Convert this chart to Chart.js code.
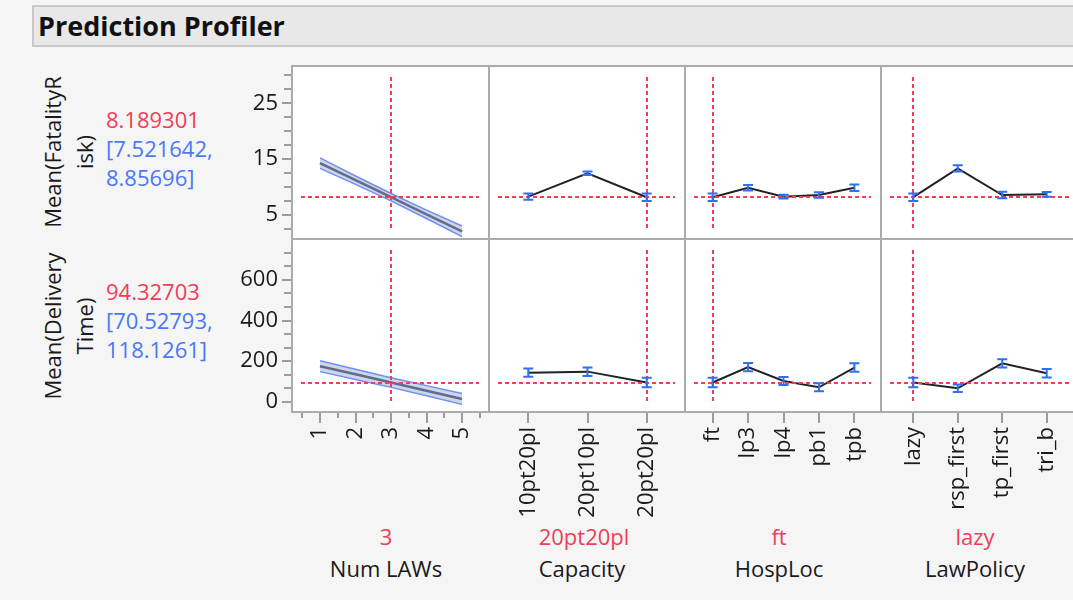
<!DOCTYPE html>
<html>
<head>
<meta charset="utf-8">
<script src="https://cdn.jsdelivr.net/npm/chart.js@4.4.1/dist/chart.umd.min.js"></script>
<style>
html,body{margin:0;padding:0;width:1073px;height:600px;overflow:hidden;background:#f5f5f5;font-family:'Open Sans',sans-serif;}
#stage{position:relative;width:1073px;height:600px;overflow:hidden;}
.titlebar{position:absolute;left:32px;top:5px;width:1060px;height:42px;background:#e8e8e8;border:2px solid #c9c9c9;box-sizing:border-box;}
.title{position:absolute;left:38px;top:6.5px;font-weight:700;font-size:27px;line-height:37px;color:#111;white-space:nowrap;}
.t{position:absolute;white-space:nowrap;font-size:22px;color:#1a1a1a;}
.c{transform:translate(-50%,-50%);line-height:30px;text-align:center;}
.rot{transform:translate(-50%,-50%) rotate(-90deg);line-height:32px;text-align:center;width:220px;}
.vals{line-height:29px;}
.red{color:#ef3d58;}
.blue{color:#4a78f5;}
canvas{position:absolute;}
</style>
</head>
<body>
<div id="stage">
  <div class="titlebar"></div>
  <div class="title">Prediction Profiler</div>

  <div class="t rot" style="left:68px;top:152px;">Mean(FatalityR<br>isk)</div>
  <div class="t vals" style="left:106px;top:105px;"><span class="red">8.189301</span><br><span class="blue">[7.521642,</span><br><span class="blue">8.85696]</span></div>

  <div class="t rot" style="left:68px;top:326px;">Mean(Delivery<br>Time)</div>
  <div class="t vals" style="left:106px;top:277px;"><span class="red">94.32703</span><br><span class="blue">[70.52793,</span><br><span class="blue">118.1261]</span></div>

  <div class="t c red" style="left:386px;top:536px;">3</div>
  <div class="t c" style="left:386px;top:568px;">Num LAWs</div>
  <div class="t c red" style="left:584px;top:536px;">20pt20pl</div>
  <div class="t c" style="left:582px;top:568px;">Capacity</div>
  <div class="t c red" style="left:779px;top:536px;">ft</div>
  <div class="t c" style="left:779px;top:568px;">HospLoc</div>
  <div class="t c red" style="left:975px;top:536px;">lazy</div>
  <div class="t c" style="left:975px;top:568px;">LawPolicy</div>
</div>
<script>
// ---------------- data ----------------
const numLaws = [1, 2, 3, 4, 5];
const fatalityByLaws   = [14.30, 11.24, 8.19, 5.13, 2.08];
const fatalityByLawsHi = [15.25, 11.99, 8.86, 5.88, 3.03];
const fatalityByLawsLo = [13.35, 10.49, 7.52, 4.38, 1.13];
const deliveryByLaws   = [175, 134.7, 94.3, 54, 13.5];
const deliveryByLawsHi = [202, 159.7, 118.1, 79, 40.5];
const deliveryByLawsLo = [148, 109.7, 70.5, 29, -13.5];

const capacityCats = ['10pt20pl', '20pt10pl', '20pt20pl'];
const fatalityByCapacity    = [8.30, 12.47, 8.19];
const fatalityByCapacityErr = [0.57, 0.32, 0.67];
const deliveryByCapacity    = [143, 148, 94.3];
const deliveryByCapacityErr = [20, 21, 23.8];

const hospCats = ['ft', 'lp3', 'lp4', 'pb1', 'tpb'];
const fatalityByHosp    = [8.19, 9.89, 8.28, 8.58, 9.89];
const fatalityByHospErr = [0.67, 0.48, 0.33, 0.50, 0.57];
const deliveryByHosp    = [94.3, 170, 102, 71, 168];
const deliveryByHospErr = [23.8, 20, 20, 20, 21];

const policyCats = ['lazy', 'rsp_first', 'tp_first', 'tri_b'];
const fatalityByPolicy    = [8.19, 13.36, 8.58, 8.70];
const fatalityByPolicyErr = [0.67, 0.57, 0.57, 0.42];
const deliveryByPolicy    = [94.3, 66, 189, 140];
const deliveryByPolicyErr = [23.8, 19, 20, 21];

const currentFatality = 8.189301;
const currentDelivery = 94.32703;
const currentLaws = 3;
const currentCapacity = 2;   // 20pt20pl
const currentHosp = 0;       // ft
const currentPolicy = 0;     // lazy

const fatalityTickLabels = [5, 15, 25];
const deliveryTickLabels = [0, 200, 400, 600];

// ---------------- layout ----------------
const PX = [292, 489, 685, 881, 1079];
const PY = [66, 239, 412];
const RED = '#f53b57', BLUE = '#2f6ff0', TICK = '#9c9c9c', FRAME = '#ababab';
const FONT = {family: "'Open Sans', sans-serif", size: 22};

function range(a, b, s) { const r = []; for (let v = a; v <= b + 1e-9; v += s) r.push(+v.toFixed(6)); return r; }

const rowInfo = [
  {min: 0.7, max: 31.7, ticks: range(2.5, 30, 2.5), labels: fatalityTickLabels, ref: currentFatality},
  {min: -51, max: 802, ticks: range(0, 740, 200 / 3), labels: deliveryTickLabels, ref: currentDelivery}
];
const colInfo = [
  {min: 0.21, max: 5.76, ticks: range(0.5, 5.5, 0.5), cats: null, ref: currentLaws},
  {min: -0.664, max: 2.647, ticks: [0, 1, 2], cats: capacityCats, ref: currentCapacity},
  {min: -0.78, max: 4.75, ticks: [0, 1, 2, 3, 4], cats: hospCats, ref: currentHosp},
  {min: -0.727, max: 3.727, ticks: [0, 1, 2, 3], cats: policyCats, ref: currentPolicy}
];
const catData = [
  [null, [fatalityByCapacity, fatalityByCapacityErr], [fatalityByHosp, fatalityByHospErr], [fatalityByPolicy, fatalityByPolicyErr]],
  [null, [deliveryByCapacity, deliveryByCapacityErr], [deliveryByHosp, deliveryByHospErr], [deliveryByPolicy, deliveryByPolicyErr]]
];
const contData = [
  [fatalityByLaws, fatalityByLawsHi, fatalityByLawsLo],
  [deliveryByLaws, deliveryByLawsHi, deliveryByLawsLo]
];

function isLabeled(v, labels) { return labels.some(l => Math.abs(l - v) < 1e-6); }

const profiler = {
  id: 'profiler',
  beforeDraw(chart) {
    const {ctx, chartArea: a} = chart;
    ctx.save();
    ctx.fillStyle = '#ffffff';
    ctx.fillRect(a.left, a.top, a.right - a.left, a.bottom - a.top);
    ctx.restore();
  },
  afterDatasetsDraw(chart, args, o) {
    const {ctx, chartArea: a} = chart;
    const x = chart.scales.x, y = chart.scales.y;
    ctx.save();
    ctx.strokeStyle = RED; ctx.lineWidth = 2; ctx.setLineDash([4, 3]);
    const yy = Math.round(y.getPixelForValue(o.hRef));
    ctx.beginPath(); ctx.moveTo(a.left + 9, yy); ctx.lineTo(a.right - 10, yy); ctx.stroke();
    const xx = Math.round(x.getPixelForValue(o.vRef));
    ctx.beginPath(); ctx.moveTo(xx, a.top + 11); ctx.lineTo(xx, a.bottom - 9); ctx.stroke();
    ctx.setLineDash([]);
    if (o.means) {
      ctx.strokeStyle = BLUE; ctx.lineWidth = 2;
      o.means.forEach((m, i) => {
        const px = x.getPixelForValue(i);
        const lo = y.getPixelForValue(m - o.errs[i]);
        const hi = y.getPixelForValue(m + o.errs[i]);
        ctx.beginPath();
        ctx.moveTo(px, lo); ctx.lineTo(px, hi);
        ctx.moveTo(px - 5, lo); ctx.lineTo(px + 5, lo);
        ctx.moveTo(px - 5, hi); ctx.lineTo(px + 5, hi);
        ctx.stroke();
      });
    }
    ctx.restore();
  },
  afterDraw(chart, args, o) {
    const {ctx, chartArea: a} = chart;
    const x = chart.scales.x, y = chart.scales.y;
    ctx.save();
    ctx.strokeStyle = TICK; ctx.lineWidth = 2;
    if (o.showY) {
      y.ticks.forEach(t => {
        const py = Math.round(y.getPixelForValue(t.value));
        const len = isLabeled(t.value, o.yLabels) ? 10 : 8;
        ctx.beginPath(); ctx.moveTo(a.left - len, py); ctx.lineTo(a.left, py); ctx.stroke();
      });
    }
    if (o.showX) {
      x.ticks.forEach(t => {
        const px = Math.round(x.getPixelForValue(t.value));
        const len = (o.cats || Number.isInteger(t.value)) ? 11 : 6;
        ctx.beginPath(); ctx.moveTo(px, a.bottom); ctx.lineTo(px, a.bottom + len); ctx.stroke();
      });
    }
    ctx.strokeStyle = FRAME; ctx.lineWidth = 2;
    ctx.strokeRect(a.left, a.top, a.right - a.left, a.bottom - a.top);
    ctx.restore();
  }
};

const stage = document.getElementById('stage');

function panel(r, c) {
  const x0 = PX[c], x1 = PX[c + 1], y0 = PY[r], y1 = PY[r + 1];
  const showY = c === 0, showX = r === 1;
  const AXW = 90, AXH = 150, M = 34;
  const left = showY ? x0 - AXW : x0 - M;
  const top = y0 - M;
  const w = x1 + M - left;
  const h = (showX ? y1 + AXH : y1 + M) - top;
  const cv = document.createElement('canvas');
  cv.width = w; cv.height = h;
  cv.style.left = left + 'px'; cv.style.top = top + 'px';
  cv.style.width = w + 'px'; cv.style.height = h + 'px';
  stage.appendChild(cv);

  const R = rowInfo[r], C = colInfo[c];
  let datasets, plug = {hRef: R.ref, vRef: C.ref, showX, showY, yLabels: R.labels, cats: !!C.cats};
  if (c === 0) {
    const [mean, hi, lo] = contData[r];
    datasets = [
      {data: numLaws.map((v, i) => ({x: v, y: hi[i]})), borderColor: '#6f8ff0', borderWidth: 1.5, pointRadius: 0, fill: false},
      {data: numLaws.map((v, i) => ({x: v, y: lo[i]})), borderColor: '#6f8ff0', borderWidth: 1.5, pointRadius: 0,
       fill: '-1', backgroundColor: 'rgba(165,180,225,0.55)'},
      {data: numLaws.map((v, i) => ({x: v, y: mean[i]})), borderColor: '#151515', borderWidth: 2.5, pointRadius: 0, fill: false}
    ];
  } else {
    const [means, errs] = catData[r][c];
    datasets = [
      {data: means.map((m, i) => ({x: i, y: m})), borderColor: '#222', borderWidth: 2, pointRadius: 0, fill: false}
    ];
    plug.means = means; plug.errs = errs;
  }

  new Chart(cv, {
    type: 'line',
    data: {datasets},
    plugins: [profiler],
    options: {
      responsive: false,
      animation: false,
      events: [],
      layout: {padding: {left: showY ? 0 : M, right: M, top: M, bottom: showX ? 0 : M}},
      plugins: {legend: {display: false}, tooltip: {enabled: false}, profiler: plug},
      elements: {line: {tension: 0}},
      scales: {
        x: {
          type: 'linear', min: C.min, max: C.max, display: showX, position: 'bottom',
          afterBuildTicks: s => { s.ticks = C.ticks.map(v => ({value: v})); },
          afterFit: s => { if (showX) s.height = AXH; },
          grid: {display: false, drawTicks: true, tickLength: 11},
          border: {display: false},
          ticks: {
            autoSkip: false, minRotation: 90, maxRotation: 90, padding: 4,
            color: '#1a1a1a', font: FONT,
            callback: v => C.cats ? (C.cats[Math.round(v)] ?? '') : (Number.isInteger(v) ? String(v) : '')
          }
        },
        y: {
          type: 'linear', min: R.min, max: R.max, display: showY, position: 'left',
          afterBuildTicks: s => { s.ticks = R.ticks.map(v => ({value: v})); },
          afterFit: s => { if (showY) s.width = AXW; },
          grid: {display: false, drawTicks: true, tickLength: 10},
          border: {display: false},
          ticks: {
            autoSkip: false, padding: 4, color: '#1a1a1a', font: FONT,
            callback: v => isLabeled(v, R.labels) ? String(Math.round(v)) : ''
          }
        }
      }
    }
  });
}

for (let r = 0; r < 2; r++) for (let c = 0; c < 4; c++) panel(r, c);
</script>
</body>
</html>
